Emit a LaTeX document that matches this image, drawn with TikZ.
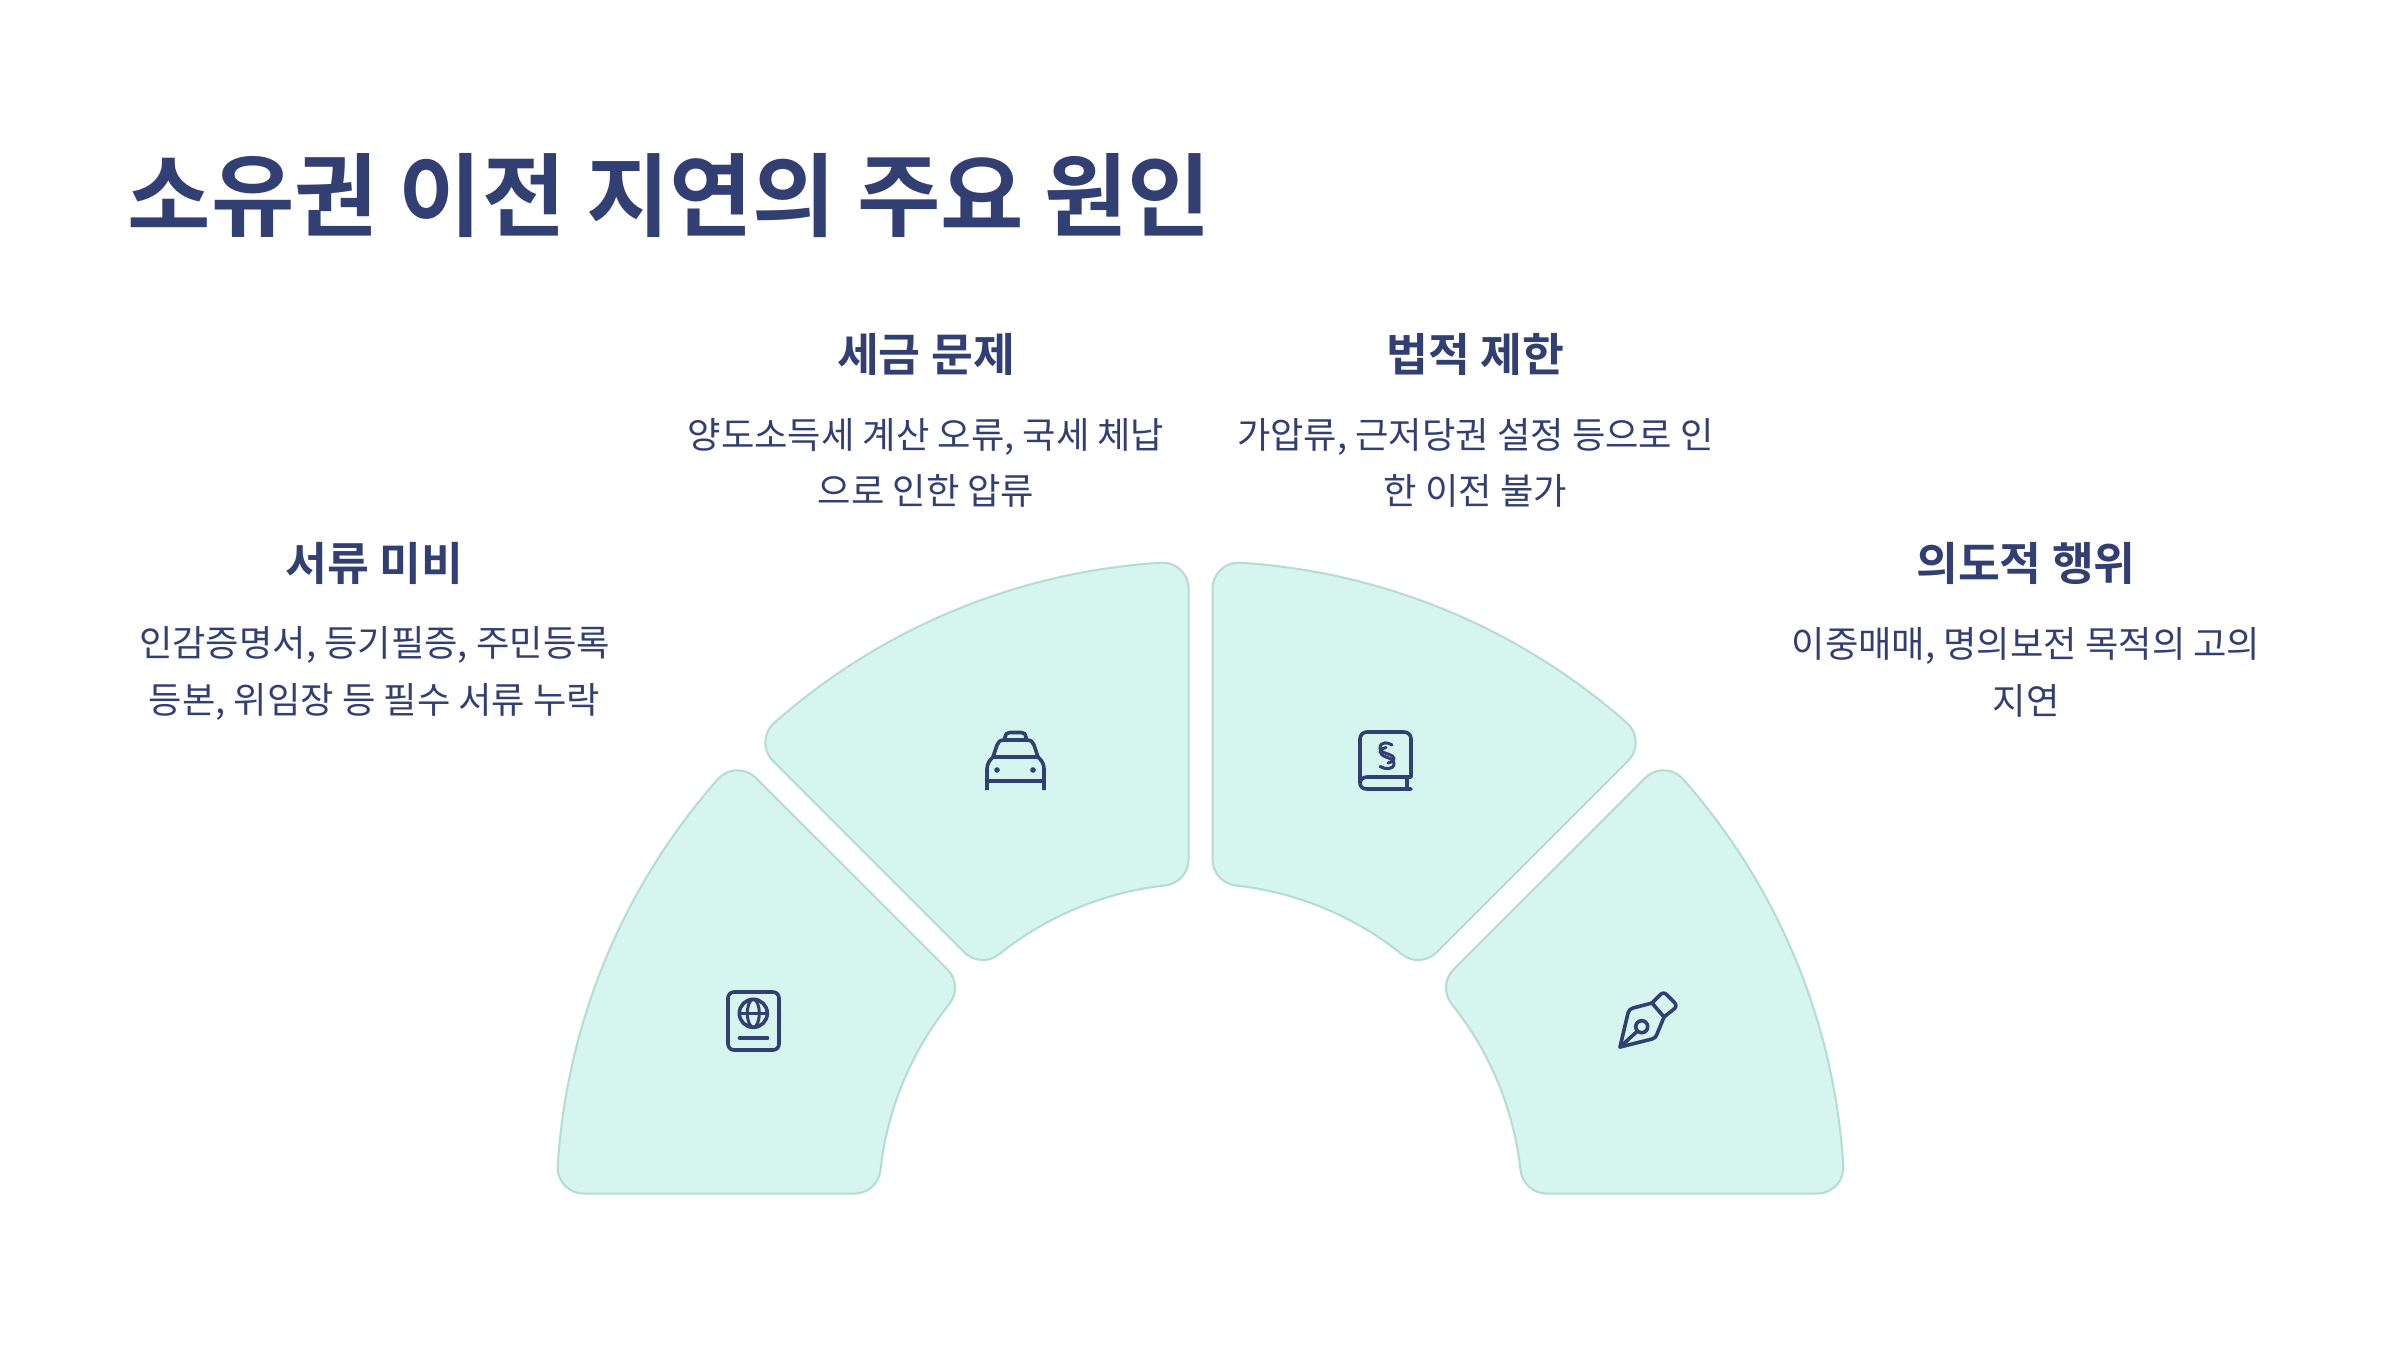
\documentclass[tikz,border=0pt]{standalone}
\usepackage{fontspec}
\setmainfont{Noto Sans CJK KR}
\definecolor{ink}{HTML}{323F73}
\definecolor{petal}{HTML}{D5F5EE}
\definecolor{petaledge}{HTML}{B5DCD2}
\newfontface\boldkr{Noto Sans CJK KR Bold}
\tikzset{
  petalshape/.style={fill=petal,draw=petaledge,line width=2pt},
  titletext/.style={anchor=west,text=ink,inner sep=0pt,font=\boldkr\fontsize{90.7}{100}\selectfont},
  headtext/.style={text=ink,inner sep=0pt,font=\boldkr\fontsize{45.5}{50}\selectfont},
  bodytext/.style={text=ink,inner sep=0pt,align=center,font=\fontsize{36.3}{56.5}\selectfont},
  iconline/.style={draw=ink,line width=3.6pt,line cap=round,line join=round}
}
\newcommand{\petalpath}{%
  (-12pt,345.92pt) -- (-12pt,616.83pt)
  arc[start angle=0,end angle=93.53,radius=26pt]
  arc[start angle=93.53,end angle=131.47,radius=644pt]
  arc[start angle=131.47,end angle=225,radius=26pt]
  -- (-236.11pt,253.09pt)
  arc[start angle=225,end angle=308.73,radius=26pt]
  arc[start angle=128.73,end angle=96.27,radius=322pt]
  arc[start angle=276.27,end angle=360,radius=26pt]
  -- cycle}
\begin{document}
\begin{tikzpicture}[x=1pt,y=-1pt]
\useasboundingbox (0,0) rectangle (2400,1350);
\fill[white] (0,0) rectangle (2400,1350);
% sectors, centre (1200.5,1205.5), drawn with y up
\begin{scope}[shift={(1200.5,1205.5)},x=1pt,y=1pt]
  \path[petalshape] \petalpath;
  \path[petalshape,xscale=-1] \petalpath;
  \path[petalshape,cm={0,-1,-1,0,(0,0)}] \petalpath;
  \path[petalshape,xscale=-1,cm={0,-1,-1,0,(0,0)}] \petalpath;
\end{scope}
\node[titletext] (title) at (127.5,196) {소유권 이전 지연의 주요 원인};
\node[headtext] (h1) at (374.5,563) {서류 미비};
\node[bodytext] (b1) at (374.5,673.5) {인감증명서, 등기필증, 주민등록\\등본, 위임장 등 필수 서류 누락};
\node[headtext] (h2) at (926,354) {세금 문제};
\node[bodytext] (b2) at (926,463) {양도소득세 계산 오류, 국세 체납\\으로 인한 압류};
\node[headtext] (h3) at (1475.5,354) {법적 제한};
\node[bodytext] (b3) at (1475.5,463) {가압류, 근저당권 설정 등으로 인\\한 이전 불가};
\node[headtext] (h4) at (2026,563) {의도적 행위};
\node[bodytext] (b4) at (2026,672.5) {이중매매, 명의보전 목적의 고의\\지연};
% passport
\draw[iconline,rounded corners=6pt] (728,992) rectangle (779,1050);
\draw[iconline] (753.3,1013.3) circle[radius=14];
\draw[iconline,line width=3pt] (753.3,1013.3) ellipse[x radius=6,y radius=14];
\draw[iconline,line width=3pt] (739.3,1013.3) -- (767.3,1013.3);
\draw[iconline] (739.5,1038) -- (767.5,1038);
% taxi
\draw[iconline,line cap=butt] (987,790) -- (987,769) .. controls (987,763) and (990,760) .. (993,757)
  -- (997,745) .. controls (998,742) and (1000,740) .. (1004,740) -- (1027,740)
  .. controls (1031,740) and (1033,742) .. (1034,745) -- (1038,757)
  .. controls (1041,760) and (1044,763) .. (1044,769) -- (1044,790);
\draw[iconline] (993,757) -- (1038,757);
\draw[iconline] (987,781) -- (1044,781);
\draw[iconline] (1005,740) -- (1005,737) .. controls (1005,734) and (1007,732.5) .. (1010,732.5) -- (1021,732.5) .. controls (1024,732.5) and (1026,734) .. (1026,737) -- (1026,740);
\fill[ink] (997,770) circle[radius=2.8] (1033,770) circle[radius=2.8];
% book
\draw[iconline] (1360,783) -- (1360,739) .. controls (1360,735) and (1363,732) .. (1367,732) -- (1404,732)
  .. controls (1408,732) and (1411,735) .. (1411,739) -- (1411,777) -- (1367,777)
  .. controls (1363,777) and (1360,780) .. (1360,783) .. controls (1360,787) and (1363,789) .. (1367,789) -- (1411,789);
\draw[iconline] (1407,777) -- (1407,789);
\draw[iconline,line width=3pt] (1392,745) .. controls (1388,742) and (1380,741.5) .. (1380,748) .. controls (1380,752) and (1384,752.5) .. (1388,754) .. controls (1391.5,755.5) and (1394,756) .. (1394,758.5) .. controls (1394,761) and (1391,762.5) .. (1388,763);
\draw[iconline,line width=3pt] (1380,766.5) .. controls (1385,769.5) and (1394,770) .. (1394,763.5) .. controls (1394,759.5) and (1390,758.5) .. (1386,757) .. controls (1382.5,755.5) and (1380,754) .. (1380,751.5) .. controls (1380,749.5) and (1383,748) .. (1386,747.5);
% pen
\draw[iconline] (1652,1003) -- (1660,995) .. controls (1662,992.5) and (1665,992.5) .. (1667,995) -- (1674,1002) .. controls (1676.5,1004.5) and (1676.5,1007) .. (1674,1009) -- (1664,1017) -- cycle;
\draw[iconline] (1652,1003) -- (1633,1008) .. controls (1630,1009) and (1629,1010) .. (1628,1013) -- (1620,1047) -- (1652,1039) .. controls (1655,1038) and (1656,1037) .. (1657,1034) -- (1664,1017);
\draw[iconline] (1641.7,1026.7) circle[radius=6];
\draw[iconline] (1620,1047) -- (1637.5,1031);
\end{tikzpicture}
\end{document}
